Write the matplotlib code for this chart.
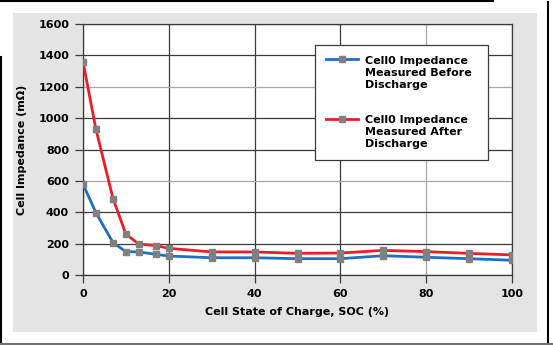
import matplotlib
matplotlib.use("Agg")
import matplotlib.pyplot as plt
from matplotlib.patches import Rectangle
from matplotlib.lines import Line2D

# ── data ──────────────────────────────────────────────────────────────────────
soc = [0, 3, 7, 10, 13, 17, 20, 30, 40, 50, 60, 70, 80, 90, 100]
before = [579, 398, 206, 149, 147, 132, 121, 110, 110, 104, 104, 123, 113, 104, 94]
after = [1360, 931, 487, 260, 198, 187, 170, 147, 147, 138, 140, 157, 149, 138, 128]

x_ticks = [0, 20, 40, 60, 80, 100]
y_ticks = [0, 200, 400, 600, 800, 1000, 1200, 1400, 1600]

series_labels = ["Cell0 Impedance\nMeasured Before\nDischarge",
                 "Cell0 Impedance\nMeasured After\nDischarge"]

BLUE = "#1f6fc0"
RED = "#ee1c25"
MARK = "#808080"
DARK = "#3a3a3a"
LIGHT = "#a8a8a8"

plt.rcParams["font.family"] = ["DejaVu Sans"]
plt.rcParams["font.weight"] = "bold"

fig = plt.figure(figsize=(5.53, 3.46), dpi=100)
W, H = 553, 346

# grey panel + odd black frame from the screenshot
fig.patches.append(Rectangle((13 / W, 1 - 332 / H), (537 - 13) / W, (332 - 13) / H,
                             transform=fig.transFigure, facecolor="#e4e4e4",
                             edgecolor="none", zorder=-5))
frame = [([0, 493], [1, 1], "black"),
         ([548, 548], [2, 343], "black"),
         ([1, 1], [57, 343], "black"),
         ([0, 553], [344, 344], "#707070")]
for xs, ys, c in frame:
    fig.lines.append(Line2D([v / W for v in xs], [1 - v / H for v in ys],
                            transform=fig.transFigure, color=c, lw=1.5, zorder=-4))

ax = fig.add_axes([83 / W, 1 - 275 / H, (512 - 83) / W, (275 - 24) / H])
ax.set_zorder(2)
ax.set_facecolor("white")

ax.plot(soc, before, color=BLUE, lw=2, marker="s", ms=5,
        mfc=MARK, mec=MARK, zorder=3)
ax.plot(soc, after, color=RED, lw=2, marker="s", ms=5,
        mfc=MARK, mec=MARK, zorder=3)

ax.set_xlim(0, 100)
ax.set_ylim(0, 1600)
ax.set_xticks(x_ticks)
ax.set_yticks(y_ticks)
ax.grid(True, color=DARK, lw=0.9)
ax.set_axisbelow(True)
# the scanned grid has a few lighter lines
for val, gl in zip(y_ticks, ax.get_ygridlines()):
    if val in (600, 1200):
        gl.set_color(LIGHT)
for val, gl in zip(x_ticks, ax.get_xgridlines()):
    if val == 80:
        gl.set_color(LIGHT)
for s in ax.spines.values():
    s.set_color(DARK)
    s.set_linewidth(0.9)
ax.tick_params(axis="both", length=6, width=0.9, color=DARK,
               labelsize=8, pad=4)
for lab in ax.get_xticklabels() + ax.get_yticklabels():
    lab.set_fontweight("bold")

ax.set_xlabel("Cell State of Charge, SOC (%)", fontsize=8, fontweight="bold", labelpad=6)
ax.set_ylabel("Cell Impedance (m\u03a9)", fontsize=8, fontweight="bold", labelpad=8)

# legend box drawn by hand: handle sits on the first text line
ax.add_patch(Rectangle((0.541, 0.458), 0.403, 0.458, transform=ax.transAxes,
                       facecolor="white", edgecolor=DARK, lw=0.9, zorder=5))
for color, lab, y_first, y_mid in [(BLUE, series_labels[0], 0.861, 0.805),
                                   (RED, series_labels[1], 0.622, 0.568)]:
    ax.add_line(Line2D([0.566, 0.641], [y_first, y_first], transform=ax.transAxes,
                       color=color, lw=2, zorder=6))
    ax.add_line(Line2D([0.603], [y_first], transform=ax.transAxes, marker="s", ms=5,
                       mfc=MARK, mec=MARK, zorder=7))
    ax.text(0.657, y_mid, lab, transform=ax.transAxes, fontsize=8, fontweight="bold",
            va="center", ha="left", linespacing=1.25, zorder=7)

fig.savefig("out.png", dpi=100)
